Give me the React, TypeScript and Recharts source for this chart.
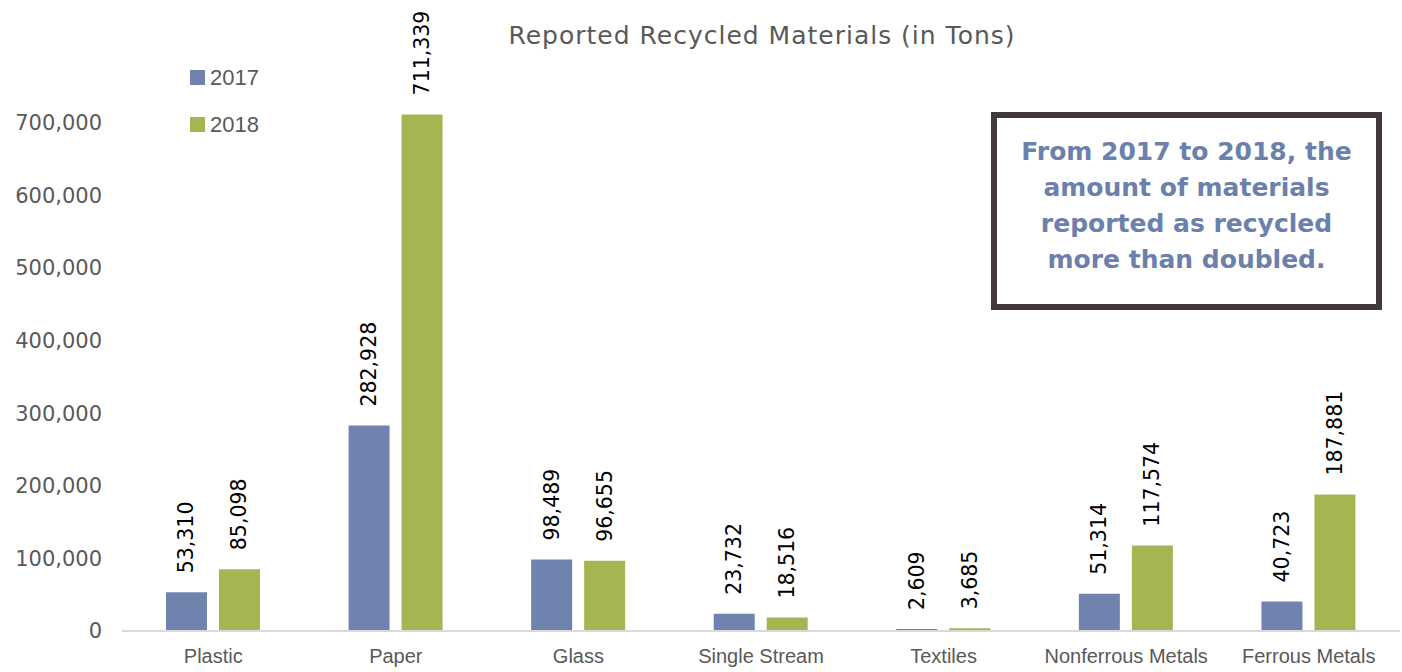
import React from "react";
import { BarChart, Bar, XAxis, YAxis, Legend, LabelList } from "recharts";

const categories = ["Plastic", "Paper", "Glass", "Single Stream", "Textiles", "Nonferrous Metals", "Ferrous Metals"];
const values2017 = [53310, 282928, 98489, 23732, 2609, 51314, 40723];
const values2018 = [85098, 711339, 96655, 18516, 3685, 117574, 187881];
const yTicks = [0, 100000, 200000, 300000, 400000, 500000, 600000, 700000];
const seriesNames = ["2017", "2018"];
const colors = ["#6f83ae", "#a5b552"];

const data = categories.map((c, i) => ({ name: c, y2017: values2017[i], y2018: values2018[i] }));

const fmt = (v: number) => v.toLocaleString("en-US");

const RotLabel = (props: any) => {
  const { x, y, width, value } = props;
  const cx = x + width / 2;
  const cy = y - 19;
  return (
    <text
      x={cx}
      y={cy}
      transform={`rotate(-90 ${cx} ${cy})`}
      textAnchor="start"
      dominantBaseline="central"
      fontFamily="DejaVu Sans, sans-serif"
      fontSize={20.5}
      fill="#000"
    >
      {fmt(value)}
    </text>
  );
};

const LegendContent = () => (
  <div style={{ fontFamily: "'Liberation Sans Narrow', 'Liberation Sans', sans-serif", fontSize: 22, color: "#595959" }}>
    {seriesNames.map((n, i) => (
      <div key={n} style={{ display: "flex", alignItems: "center", height: 47 }}>
        <span style={{ display: "inline-block", width: 15, height: 15, background: colors[i], marginRight: 5 }} />
        <span>{n}</span>
      </div>
    ))}
  </div>
);

export default function App() {
  return (
    <div style={{ position: "absolute", left: 0, top: 0, width: 1402, height: 672, background: "#fff" }}>
      <BarChart
        width={1402}
        height={672}
        data={data}
        margin={{ top: 50, right: 2, bottom: 0, left: 0 }}
        barSize={41}
        barGap={12}
      >
        <text
          x={762}
          y={35}
          textAnchor="middle"
          dominantBaseline="central"
          fontFamily="DejaVu Sans, sans-serif"
          fontSize={25}
          letterSpacing={1}
          fill="#595959"
        >
          Reported Recycled Materials (in Tons)
        </text>
        <XAxis
          dataKey="name"
          height={41}
          tickLine={false}
          axisLine={{ stroke: "#d9d9d9", strokeWidth: 2 }}
          tick={{ fontFamily: "Liberation Sans, sans-serif", fontSize: 20, fill: "#595959" }}
          tickMargin={12}
          interval={0}
        />
        <YAxis
          width={122}
          domain={[0, 800000]}
          ticks={yTicks}
          axisLine={false}
          tickLine={false}
          tickSize={0}
          tickMargin={20}
          tickFormatter={(v: number) => fmt(v)}
          tick={{ fontFamily: "DejaVu Sans, sans-serif", fontSize: 21, fill: "#595959" }}
        />
        <Legend
          layout="vertical"
          verticalAlign="middle"
          align="center"
          wrapperStyle={{ position: "absolute", left: 190, top: 54, width: 120, right: "auto", bottom: "auto" }}
          content={<LegendContent />}
        />
        <Bar dataKey="y2017" name={seriesNames[0]} fill={colors[0]} isAnimationActive={false}>
          <LabelList dataKey="y2017" content={<RotLabel />} />
        </Bar>
        <Bar dataKey="y2018" name={seriesNames[1]} fill={colors[1]} isAnimationActive={false}>
          <LabelList dataKey="y2018" content={<RotLabel />} />
        </Bar>
      </BarChart>
      <div
        style={{
          position: "absolute",
          left: 991,
          top: 112,
          width: 391,
          height: 198,
          boxSizing: "border-box",
          border: "6px solid #42393a",
          background: "#fff",
          display: "flex",
          flexDirection: "column",
          alignItems: "center",
          paddingTop: 16,
          fontFamily: "'DejaVu Sans', sans-serif",
          fontWeight: 600,
          fontSize: 25,
          lineHeight: "36px",
          color: "#6c80ac",
          textAlign: "center",
        }}
      >
        <div>From 2017 to 2018, the</div>
        <div>amount of materials</div>
        <div>reported as recycled</div>
        <div>
          more than <span style={{ fontWeight: 800 }}>doubled.</span>
        </div>
      </div>
    </div>
  );
}
